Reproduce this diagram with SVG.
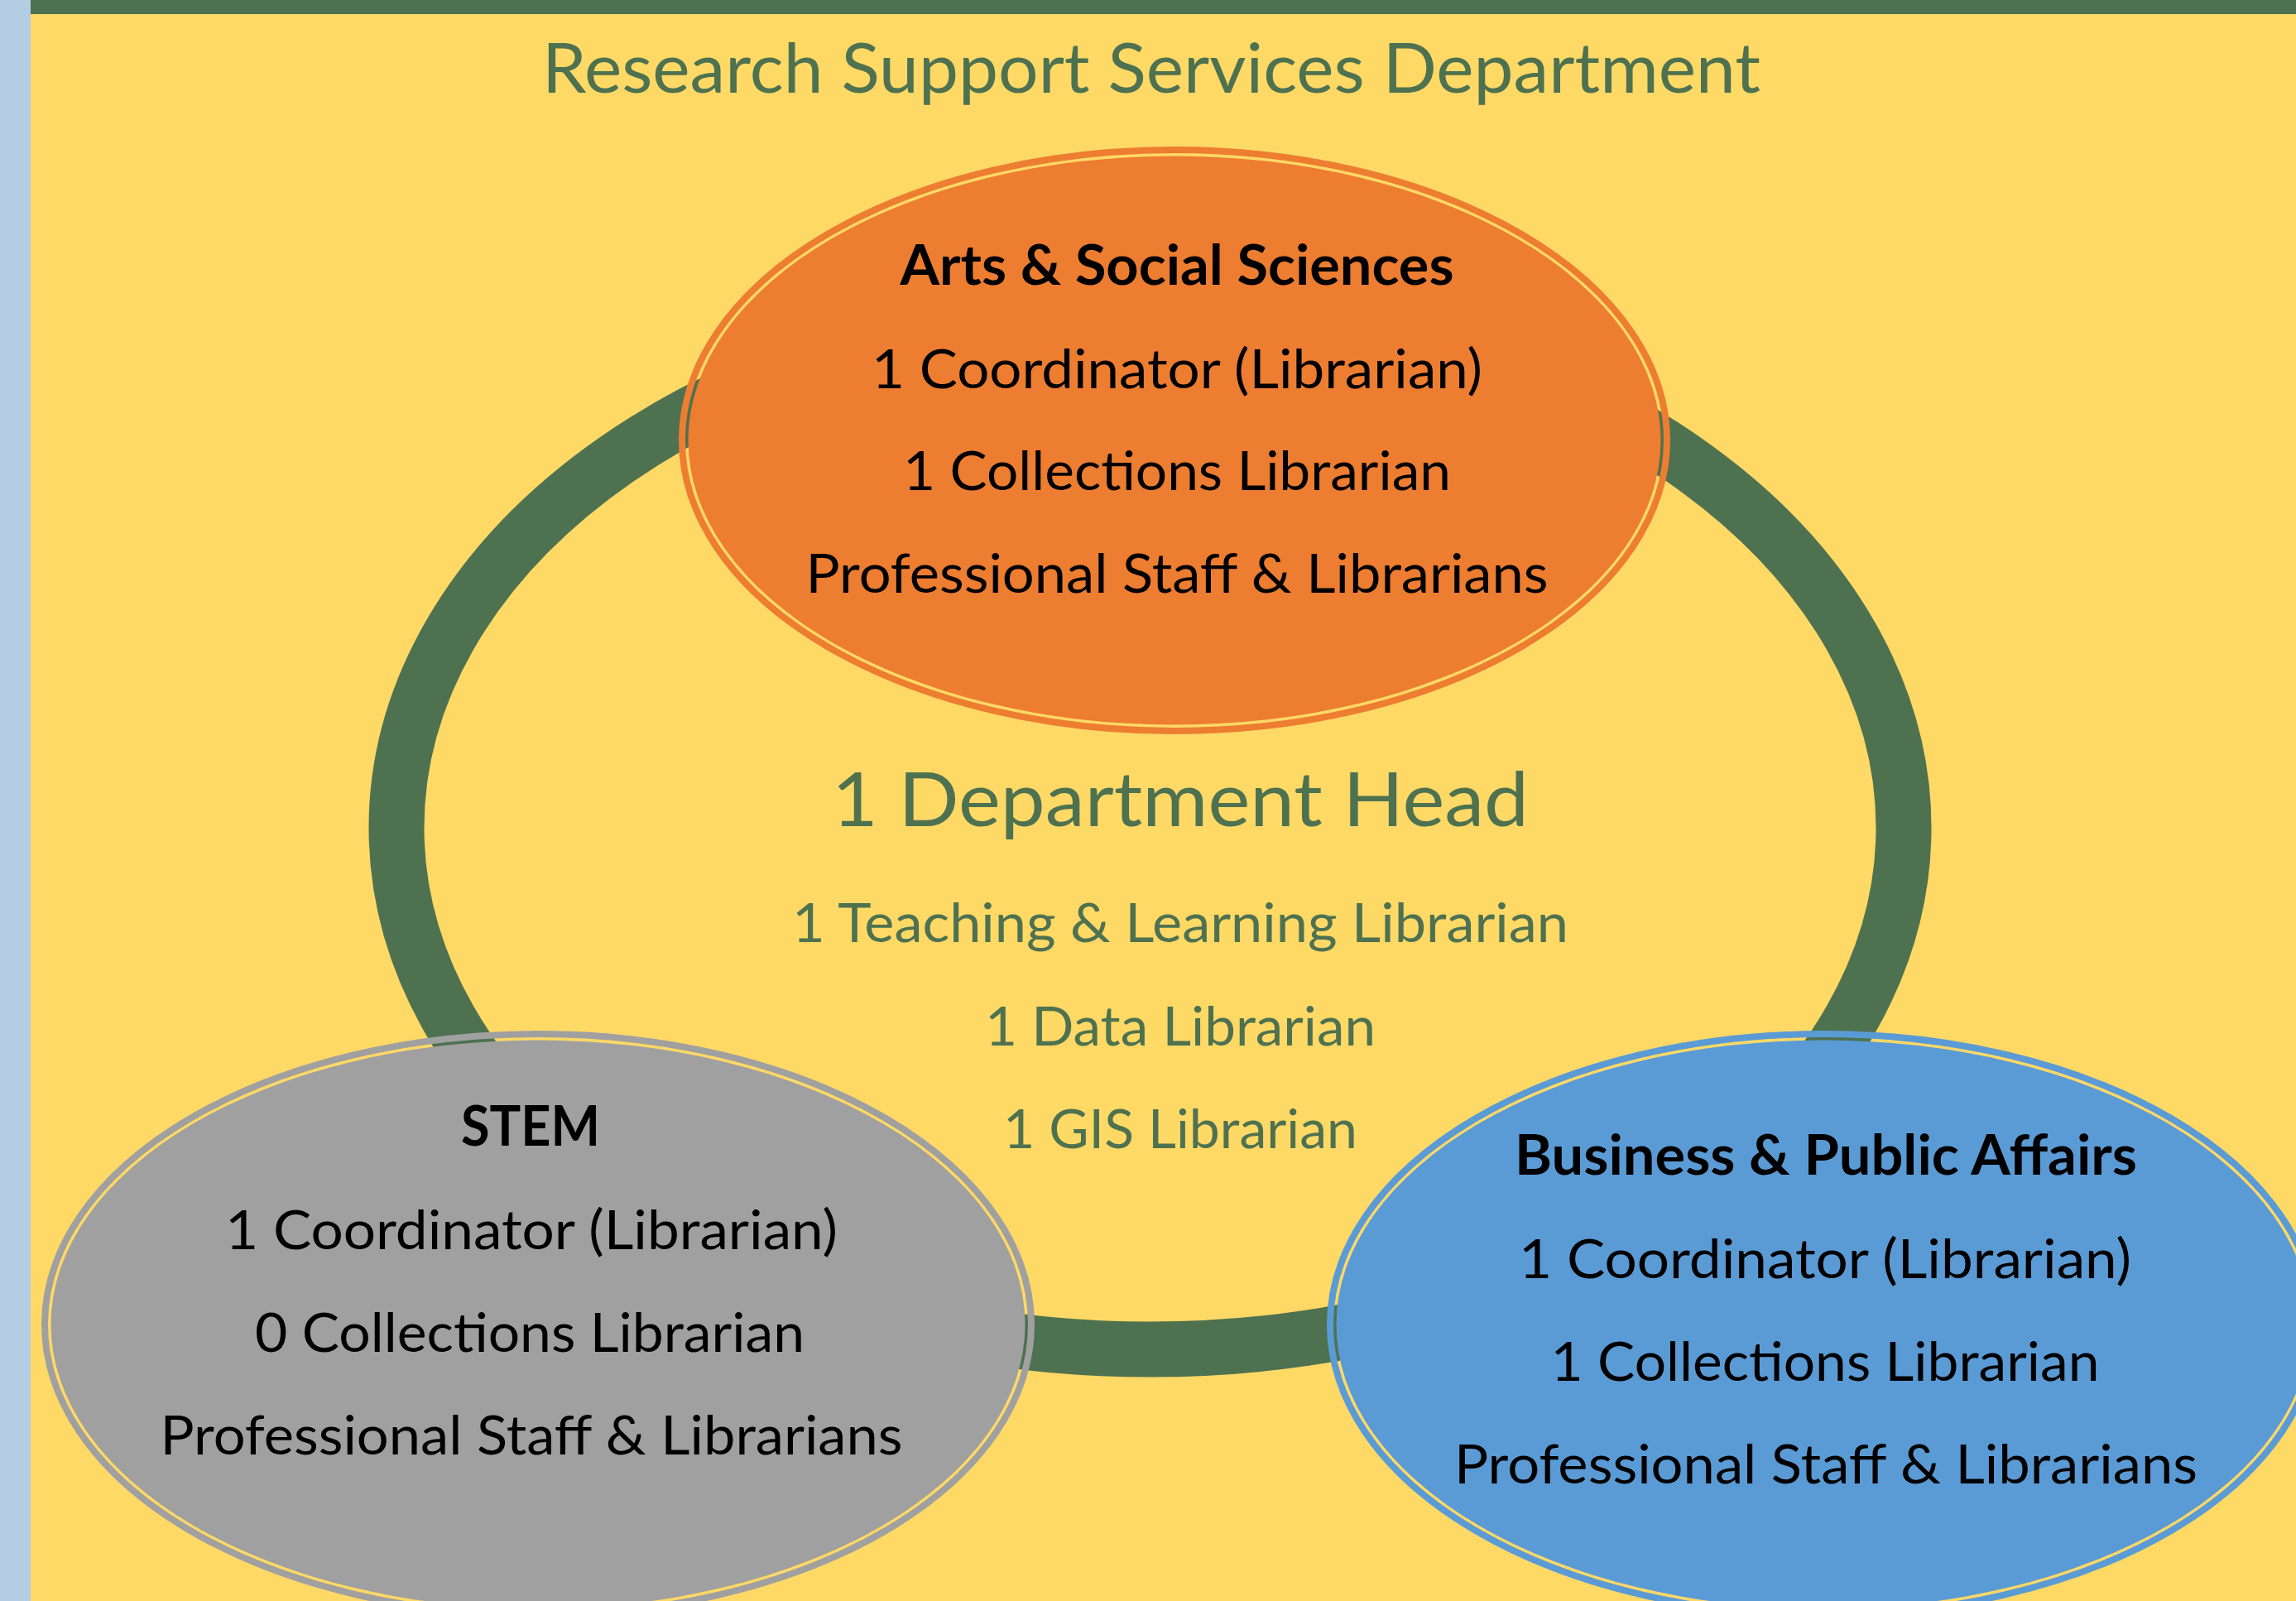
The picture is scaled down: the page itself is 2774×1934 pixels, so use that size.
<svg xmlns="http://www.w3.org/2000/svg" width="2774" height="1934" viewBox="0 0 2774 1934">
  <style>
    .title { font-family: Lato, "Liberation Sans", sans-serif; font-size: 84px; fill: #4E7150; text-anchor: middle; }
    .head { font-family: Lato, "Liberation Sans", sans-serif; font-size: 92px; fill: #4E7150; text-anchor: middle; }
    .sub { font-family: Lato, "Liberation Sans", sans-serif; font-size: 66px; fill: #4E7150; text-anchor: middle; }
    .nt { font-family: Lato, "Liberation Sans", sans-serif; font-size: 66px; fill: #000000; text-anchor: middle; }
    .nb { font-family: Lato, "Liberation Sans", sans-serif; font-size: 66px; font-weight: bold; fill: #000000; text-anchor: middle; }
    .ring { fill: none; stroke: #4E7150; stroke-width: 67; }
    .outer { fill: none; stroke-width: 8; }
  </style>
  <rect x="0" y="0" width="2774" height="1934" fill="#FFD966"/>
  <rect x="0" y="0" width="37" height="1934" fill="#B5CDE3"/>
  <rect x="37" y="0" width="2737" height="17" fill="#4B7150"/>
  <text class="title" x="1391" y="112" textLength="1472" lengthAdjust="spacingAndGlyphs">Research Support Services Department</text>

  <g id="connectors">
    <ellipse class="ring" cx="1389.5" cy="1000" rx="910.5" ry="630"/>
  </g>

  <g id="center">
    <text class="head" x="1426" y="998" textLength="842" lengthAdjust="spacingAndGlyphs">1 Department Head</text>
    <text class="sub" x="1426" y="1138" textLength="938" lengthAdjust="spacingAndGlyphs">1 Teaching &amp; Learning Librarian</text>
    <text class="sub" x="1426" y="1263" textLength="472" lengthAdjust="spacingAndGlyphs">1 Data Librarian</text>
    <text class="sub" x="1426" y="1387" textLength="428" lengthAdjust="spacingAndGlyphs">1 GIS Librarian</text>
  </g>

  <g id="arts">
    <ellipse class="outer" cx="1419" cy="532" rx="595" ry="351" stroke="#ED7D31"/>
    <ellipse cx="1419" cy="532" rx="587.5" ry="343.5" fill="#ED7D31"/>
    <text class="nb" x="1422" y="344" textLength="669" lengthAdjust="spacingAndGlyphs">Arts &amp; Social Sciences</text>
    <text class="nt" x="1422" y="469" textLength="738" lengthAdjust="spacingAndGlyphs">1 Coordinator (Librarian)</text>
    <text class="nt" x="1422" y="592" textLength="662" lengthAdjust="spacingAndGlyphs">1 Collections Librarian</text>
    <text class="nt" x="1422" y="716" textLength="897" lengthAdjust="spacingAndGlyphs">Professional Staff &amp; Librarians</text>
  </g>

  <g id="stem">
    <ellipse class="outer" cx="650" cy="1600" rx="596" ry="351" stroke="#A0A0A0"/>
    <ellipse cx="650" cy="1600" rx="588.5" ry="343.5" fill="#A0A0A0"/>
    <text class="nb" x="641" y="1384" textLength="168" lengthAdjust="spacingAndGlyphs">STEM</text>
    <text class="nt" x="642" y="1509" textLength="740" lengthAdjust="spacingAndGlyphs">1 Coordinator (Librarian)</text>
    <text class="nt" x="640" y="1633" textLength="664" lengthAdjust="spacingAndGlyphs">0 Collections Librarian</text>
    <text class="nt" x="642" y="1757" textLength="897" lengthAdjust="spacingAndGlyphs">Professional Staff &amp; Librarians</text>
  </g>

  <g id="business">
    <ellipse class="outer" cx="2203" cy="1600" rx="596" ry="351" stroke="#5B9BD5"/>
    <ellipse cx="2203" cy="1600" rx="588.5" ry="343.5" fill="#5B9BD5"/>
    <text class="nb" x="2206" y="1419" textLength="752" lengthAdjust="spacingAndGlyphs">Business &amp; Public Affairs</text>
    <text class="nt" x="2205" y="1544" textLength="740" lengthAdjust="spacingAndGlyphs">1 Coordinator (Librarian)</text>
    <text class="nt" x="2205" y="1668" textLength="663" lengthAdjust="spacingAndGlyphs">1 Collections Librarian</text>
    <text class="nt" x="2206" y="1792" textLength="898" lengthAdjust="spacingAndGlyphs">Professional Staff &amp; Librarians</text>
  </g>
</svg>
